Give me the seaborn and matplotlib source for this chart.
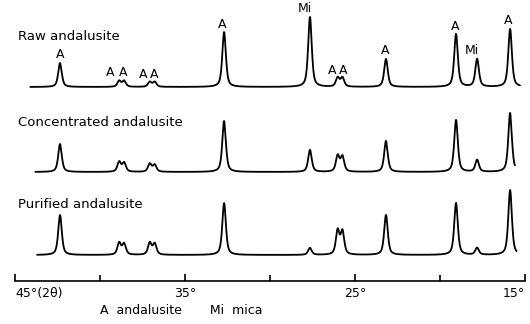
import numpy as np
import pandas as pd
import seaborn as sns
import matplotlib.pyplot as plt
from matplotlib.ticker import FixedLocator

# peak positions (2 theta, degrees) and phase labels
peak_pos = [42.35, 38.87, 38.58, 37.07, 36.78, 32.7, 27.65, 26.02, 25.74, 23.18, 19.06, 17.82, 15.88]
peak_phase = ['A', 'A', 'A', 'A', 'A', 'A', 'Mi', 'A', 'A', 'A', 'A', 'Mi', 'A']
label_pos = [42.35, 39.41, 38.65, 37.47, 36.82, 32.82, 27.94, 26.35, 25.7, 23.24, 19.12, 18.12, 16.0]

# peak intensities (arbitrary units) for each sample
raw = [24, 6, 6, 5, 5, 55, 70, 9, 9, 28, 53, 28, 58]
concentrated = [28, 10, 9, 8, 7, 51, 22, 16, 15, 31, 52, 12, 59]
purified = [40, 12, 11, 12, 11, 52, 7, 24, 23, 40, 52, 7, 65]

samples = ['Raw andalusite', 'Concentrated andalusite', 'Purified andalusite']
offsets = [237, 152, 69]
scan_start = [44.1, 43.8, 43.7]
scan_end = [15.3, 15.6, 15.5]

sns.set_style('white')
plt.rcParams['font.family'] = ['DejaVu Sans']
plt.rcParams['text.color'] = 'black'
plt.rcParams['xtick.direction'] = 'in'
plt.rcParams['xtick.bottom'] = True
plt.rcParams['xtick.minor.visible'] = True

fig = plt.figure(figsize=(5.3, 3.24), dpi=100)
ax = fig.add_axes([0, 0, 1, 1])


def profile(theta, heights, width=0.25):
    """pseudo-Voigt sum of the listed peaks"""
    y = np.zeros_like(theta)
    for p, h in zip(peak_pos, heights):
        d = (theta - p) / (width / 2)
        y += h * (0.6 / (1 + d ** 2) + 0.4 * np.exp(-np.log(2) * d ** 2))
    return y


frames = []
for name, heights, off, a, b in zip(samples, [raw, concentrated, purified], offsets, scan_start, scan_end):
    theta = np.linspace(b, a, 1500)
    frames.append(pd.DataFrame({'two_theta': theta,
                                'intensity': profile(theta, heights) + off,
                                'sample': name}))
df = pd.concat(frames)

sns.lineplot(data=df, x='two_theta', y='intensity', units='sample', estimator=None,
             color='black', lw=1.3, sort=False, ax=ax)

for name, off in zip(samples, offsets):
    ax.text(44.8, off + 50, name, fontsize=9.5, ha='left', va='center', color='black')

# phase labels on the raw pattern
for lp, ph, h in zip(label_pos, peak_phase, raw):
    ax.text(lp, offsets[0] + h + 8, ph, fontsize=9, ha='center', va='center', color='black')

ax.text(40.0, 14, 'A  andalusite       Mi  mica', fontsize=9, ha='left', va='center', color='black')

ax.set_xlim(45.88, 14.71)
ax.set_ylim(0, 324)
ax.set_xlabel('')
ax.set_ylabel('')

for s in ['top', 'left', 'right']:
    ax.spines[s].set_visible(False)
ax.spines['bottom'].set_position(('data', 43))
ax.spines['bottom'].set_bounds(45, 15)
ax.spines['bottom'].set_linewidth(1.2)
ax.spines['bottom'].set_color('black')
ax.set_yticks([])
ax.xaxis.set_major_locator(FixedLocator([45, 35, 25, 15]))
ax.xaxis.set_minor_locator(FixedLocator([40, 30, 20]))
ax.set_xticklabels(['45°(2θ)', '35°', '25°', '15°'], fontsize=9)
ax.tick_params(axis='x', which='major', bottom=True, direction='in', length=5, width=1.2,
               colors='black', labelcolor='black', pad=4)
ax.tick_params(axis='x', which='minor', bottom=True, direction='in', length=4, width=1.2,
               colors='black')
labels = ax.get_xticklabels()
labels[0].set_ha('left')
labels[0].set_x(45.4)
labels[-1].set_ha('right')

fig.savefig('out.png', dpi=100)
